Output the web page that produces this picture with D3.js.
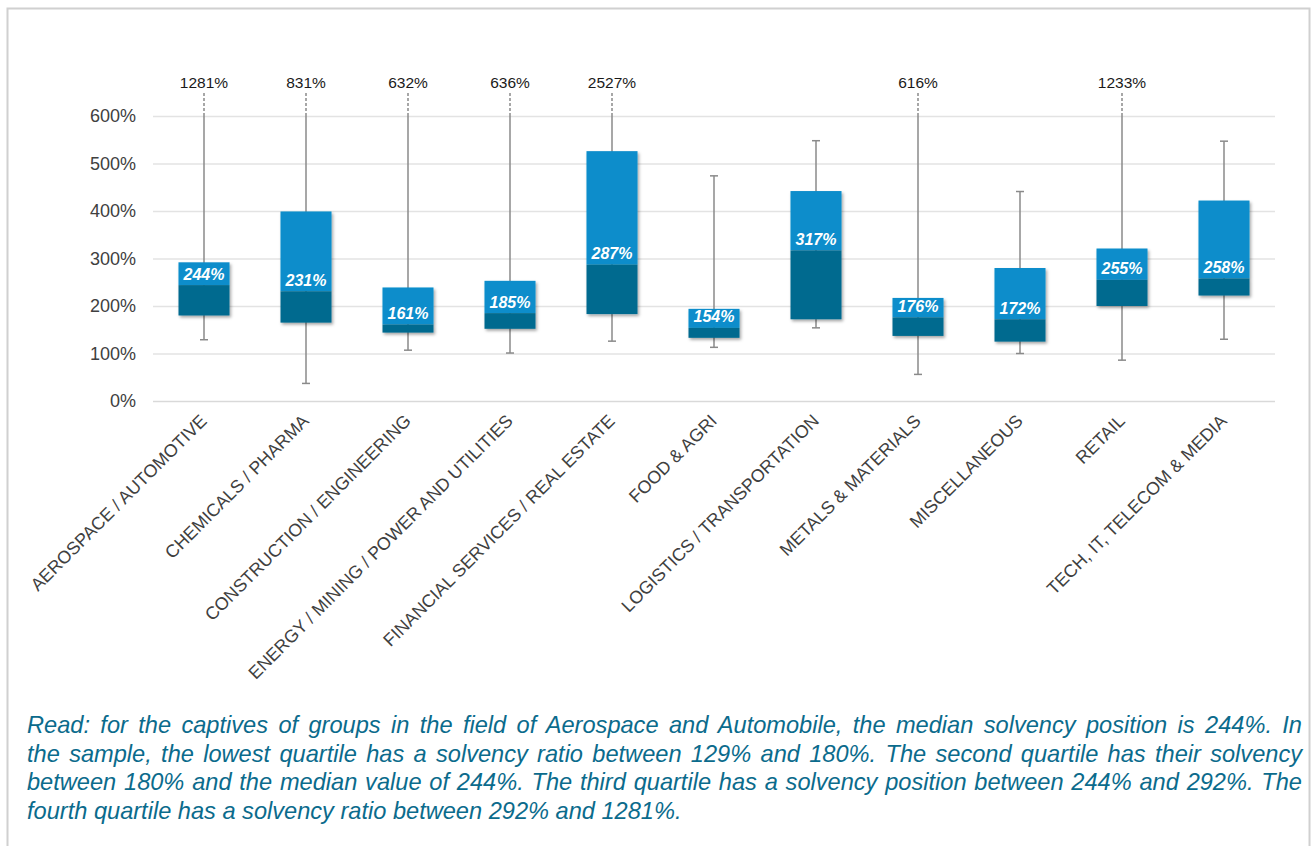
<!DOCTYPE html>
<html>
<head>
<meta charset="utf-8">
<script src="https://cdn.jsdelivr.net/npm/d3@7/dist/d3.min.js"></script>
<style>
  html, body { margin: 0; padding: 0; background: #ffffff; }
  svg { display: block; }
</style>
</head>
<body>
<svg id="chart" width="1314" height="846"></svg>
<script>
// ---- Data ----
const categories = [
  "AEROSPACE / AUTOMOTIVE",
  "CHEMICALS / PHARMA",
  "CONSTRUCTION / ENGINEERING",
  "ENERGY / MINING / POWER AND UTILITIES",
  "FINANCIAL SERVICES / REAL ESTATE",
  "FOOD & AGRI",
  "LOGISTICS / TRANSPORTATION",
  "METALS & MATERIALS",
  "MISCELLANEOUS",
  "RETAIL",
  "TECH, IT, TELECOM & MEDIA"
];
const minValues    = [129, 37, 107, 101, 126, 113, 154, 56, 100, 86, 130];
const q1Values     = [180, 165, 144, 152, 183, 133, 172, 137, 125, 200, 222];
const medianValues = [244, 231, 161, 185, 287, 154, 317, 176, 172, 255, 258];
const q3Values     = [292, 399, 239, 253, 526, 194, 442, 217, 280, 321, 422];
const maxValues    = [1281, 831, 632, 636, 2527, 474, 548, 616, 441, 1233, 547];
const yTicks = [0, 100, 200, 300, 400, 500, 600];
const captionLines = [
  "Read: for the captives of groups in the field of Aerospace and Automobile, the median solvency position is 244%. In",
  "the sample, the lowest quartile has a solvency ratio between 129% and 180%. The second quartile has their solvency",
  "between 180% and the median value of 244%. The third quartile has a solvency position between 244% and 292%. The",
  "fourth quartile has a solvency ratio between 292% and 1281%."
];

// ---- Layout ----
const FONT = "'Liberation Sans', Arial, Helvetica, sans-serif";
const svg = d3.select("#chart");
const plot = { left: 153, right: 1275, top: 116, bottom: 401 };
const yMax = 600;

const x = d3.scaleBand().domain(categories).range([plot.left, plot.right])
  .paddingInner(0.5).paddingOuter(0.25);
const y = d3.scaleLinear().domain([0, yMax]).range([plot.bottom, plot.top]);

// frame
svg.append("rect").attr("x", 7.5).attr("y", 8.5).attr("width", 1302).attr("height", 860)
  .attr("fill", "none").attr("stroke", "#d0d0d0").attr("stroke-width", 2);

// shadow filter
const defs = svg.append("defs");
const f = defs.append("filter").attr("id", "shadow").attr("x", "-20%").attr("y", "-20%")
  .attr("width", "140%").attr("height", "140%");
f.append("feDropShadow").attr("dx", 1.5).attr("dy", 2).attr("stdDeviation", 1.6)
  .attr("flood-color", "#000").attr("flood-opacity", 0.35);

// gridlines
const yAxis = d3.axisLeft(y).tickValues(yTicks).tickSize(-(plot.right - plot.left))
  .tickFormat(d => d + "%").tickPadding(17);
const gy = svg.append("g").attr("transform", `translate(${plot.left},0)`).call(yAxis);
gy.select(".domain").remove();
gy.selectAll(".tick line").attr("stroke", d => d === 0 ? "#d9d9d9" : "#e3e3e3").attr("stroke-width", 1.5);
gy.selectAll(".tick text").attr("font-family", FONT).attr("font-size", 18).attr("fill", "#404040");

// x axis labels
const xAxis = d3.axisBottom(x).tickSize(0).tickPadding(0);
const gx = svg.append("g").attr("transform", `translate(0,${plot.bottom})`).call(xAxis);
gx.select(".domain").remove();
gx.selectAll(".tick text")
  .attr("font-family", FONT).attr("font-size", 17.8).attr("fill", "#404040")
  .attr("text-anchor", "end").attr("dy", 0).attr("y", 0)
  .attr("transform", "translate(4,21) rotate(-45)");

// boxes
const data = categories.map((c, i) => ({
  c, min: minValues[i], q1: q1Values[i], med: medianValues[i], q3: q3Values[i], max: maxValues[i]
}));
const cx = d => x(d.c) + x.bandwidth() / 2;
const g = svg.append("g");

// whiskers
g.selectAll(".wh").data(data).join("line")
  .attr("x1", cx).attr("x2", cx)
  .attr("y1", d => y(d.min)).attr("y2", d => y(Math.min(d.max, yMax)))
  .attr("stroke", "#8a8a8a").attr("stroke-width", 1.5);
// lower caps
g.selectAll(".capL").data(data).join("line")
  .attr("x1", d => cx(d) - 4).attr("x2", d => cx(d) + 4)
  .attr("y1", d => y(d.min)).attr("y2", d => y(d.min))
  .attr("stroke", "#8a8a8a").attr("stroke-width", 1.5);
// upper caps (in range)
g.selectAll(".capH").data(data.filter(d => d.max <= yMax)).join("line")
  .attr("x1", d => cx(d) - 4).attr("x2", d => cx(d) + 4)
  .attr("y1", d => y(d.max)).attr("y2", d => y(d.max))
  .attr("stroke", "#8a8a8a").attr("stroke-width", 1.5);
// out-of-range dashed extension + label
const over = data.filter(d => d.max > yMax);
g.selectAll(".dash").data(over).join("line")
  .attr("x1", cx).attr("x2", cx)
  .attr("y1", y(yMax)).attr("y2", y(yMax) - 24)
  .attr("stroke", "#8a8a8a").attr("stroke-width", 1.5).attr("stroke-dasharray", "3,2");
g.selectAll(".maxlbl").data(over).join("text")
  .attr("x", cx).attr("y", y(yMax) - 28)
  .attr("text-anchor", "middle").attr("font-family", FONT).attr("font-size", 15.5)
  .attr("fill", "#1a1a1a").text(d => d.max + "%");

// box groups with shadow
const bg = g.selectAll(".box").data(data).join("g").attr("filter", "url(#shadow)");
bg.append("rect")
  .attr("x", d => x(d.c)).attr("width", x.bandwidth())
  .attr("y", d => y(d.q3)).attr("height", d => y(d.med) - y(d.q3))
  .attr("fill", "#0a8dcb");
bg.append("rect")
  .attr("x", d => x(d.c)).attr("width", x.bandwidth())
  .attr("y", d => y(d.med)).attr("height", d => y(d.q1) - y(d.med))
  .attr("fill", "#006b8f");

// median labels
g.selectAll(".medlbl").data(data).join("text")
  .attr("x", cx).attr("y", d => y(d.med) - 11)
  .attr("dy", "0.35em")
  .attr("text-anchor", "middle").attr("font-family", FONT).attr("font-size", 16)
  .attr("font-weight", "bold").attr("font-style", "italic").attr("fill", "#ffffff")
  .text(d => d.med + "%");

// caption (justified)
const capLeft = 27, capRight = 1302, capTop = 733, capStep = 28.7;
const cap = svg.append("g");
captionLines.forEach((line, i) => {
  const t = cap.append("text")
    .attr("x", capLeft).attr("y", capTop + i * capStep)
    .attr("font-family", FONT).attr("font-size", 23.6).attr("font-style", "italic")
    .attr("fill", "#0b6b8c").text(line);
  if (i < captionLines.length - 1) {
    const w = t.node().getComputedTextLength();
    const spaces = (line.match(/ /g) || []).length;
    const extra = (capRight - capLeft - w) / spaces;
    t.style("word-spacing", extra + "px");
  }
});
</script>
</body>
</html>
